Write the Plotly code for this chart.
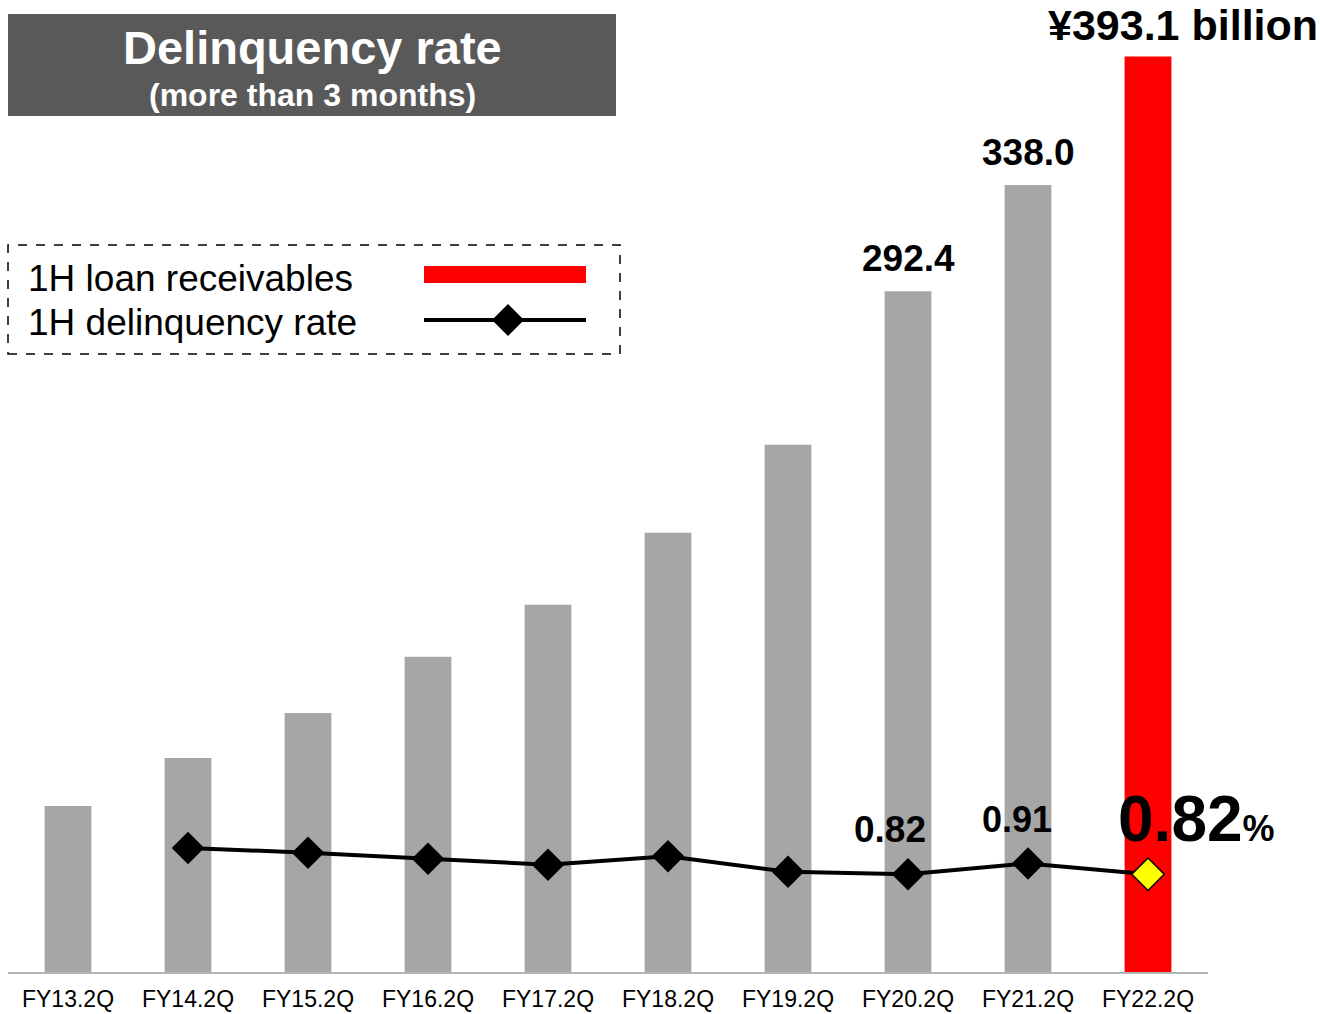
import plotly.graph_objects as go

# data
periods = ["FY13.2Q", "FY14.2Q", "FY15.2Q", "FY16.2Q", "FY17.2Q",
           "FY18.2Q", "FY19.2Q", "FY20.2Q", "FY21.2Q", "FY22.2Q"]
loans = [71.6, 92.2, 111.5, 135.6, 157.9, 188.8, 226.5, 292.4, 338.0, 393.1]
rate_periods = periods[1:]
rates = [1.04, 1.00, 0.95, 0.90, 0.97, 0.84, 0.82, 0.91, 0.82]

FONT = "Liberation Sans, Arial, sans-serif"
W, H = 1320, 1014
L, R, T, B = 8, 112, 17, 41


def px(x):
    return (x - L) / (W - L - R)


def py(y):
    return (H - B - y) / (H - T - B)


def text_at(x, y, text, size, color="black", anchor="center"):
    return dict(x=px(x), y=py(y), xref="paper", yref="paper", showarrow=False,
                xanchor=anchor, yanchor="middle", text=text,
                font=dict(size=size, color=color, family=FONT))


bar_colors = ["#a6a6a6"] * (len(periods) - 1) + ["#ff0000"]

fig = go.Figure()
fig.add_trace(go.Bar(
    x=periods, y=loans, marker=dict(color=bar_colors, line=dict(width=0)),
    width=0.39, showlegend=False, hoverinfo="skip",
))
fig.add_trace(go.Scatter(
    x=rate_periods, y=rates, yaxis="y2", mode="lines+markers",
    line=dict(color="black", width=4),
    marker=dict(symbol="diamond", size=25,
                color=["black"] * (len(rates) - 1) + ["#ffff00"],
                line=dict(color="black", width=[0] * (len(rates) - 1) + [1.5])),
    showlegend=False, hoverinfo="skip",
))

ann = []
# bar value labels
for i in (7, 8):
    ann.append(dict(x=periods[i], y=loans[i], xref="x", yref="y", xanchor="center",
                    yanchor="bottom", text=f"<b>{loans[i]:.1f}</b>", showarrow=False,
                    yshift=10, font=dict(size=37, color="black", family=FONT)))
ann.append(dict(x=periods[9], y=loans[9], xref="x", yref="y", xanchor="center",
                yanchor="bottom", text=f"<b>¥{loans[9]:.1f} billion</b>", showarrow=False,
                xshift=35, yshift=5, font=dict(size=43, color="black", family=FONT)))
# rate labels
ann.append(dict(x=rate_periods[6], y=rates[6], xref="x", yref="y2", xanchor="center",
                yanchor="bottom", text=f"<b>{rates[6]:.2f}</b>", showarrow=False,
                xshift=-18, yshift=22, font=dict(size=37, color="black", family=FONT)))
ann.append(dict(x=rate_periods[7], y=rates[7], xref="x", yref="y2", xanchor="center",
                yanchor="bottom", text=f"<b>{rates[7]:.2f}</b>", showarrow=False,
                xshift=-11, yshift=21, font=dict(size=36, color="black", family=FONT)))
ann.append(dict(x=rate_periods[8], y=rates[8], xref="x", yref="y2", xanchor="center",
                yanchor="bottom",
                text=f"<b>{rates[8]:.2f}</b><b><span style='font-size:36px'>%</span></b>",
                showarrow=False, xshift=48, yshift=17,
                font=dict(size=64, color="black", family=FONT)))

# title box
ann.append(text_at(312, 48, "<b>Delinquency rate</b>", 47, "white"))
ann.append(text_at(312, 95, "<b>(more than 3 months)</b>", 32, "white"))

# legend texts
ann.append(text_at(26, 278, "1H loan receivables", 37, anchor="left"))
ann.append(text_at(26, 322, "1H delinquency rate", 37, anchor="left"))

shapes = [
    dict(type="rect", xref="paper", yref="paper", x0=px(8), x1=px(616), y0=py(116), y1=py(14),
         fillcolor="#595959", line=dict(width=0), layer="below"),
    dict(type="rect", xref="paper", yref="paper", x0=px(8), x1=px(620), y0=py(354), y1=py(245),
         fillcolor="rgba(0,0,0,0)", line=dict(color="black", width=1.5, dash="dash")),
    dict(type="rect", xref="paper", yref="paper", x0=px(424), x1=px(586), y0=py(283), y1=py(266),
         fillcolor="#ff0000", line=dict(width=0)),
    dict(type="line", xref="paper", yref="paper", x0=px(424), x1=px(586), y0=py(320), y1=py(320),
         line=dict(color="black", width=4)),
    dict(type="path", xref="paper", yref="paper",
         path=f"M {px(492)} {py(320)} L {px(508)} {py(304)} L {px(524)} {py(320)} "
              f"L {px(508)} {py(336)} Z",
         fillcolor="black", line=dict(width=0)),
    dict(type="line", xref="paper", yref="paper", x0=0, x1=1, y0=0, y1=0,
         line=dict(color="#b3b3b3", width=2)),
]

fig.update_layout(
    width=W, height=H,
    margin=dict(l=L, r=R, t=T, b=B),
    plot_bgcolor="white", paper_bgcolor="white",
    xaxis=dict(showgrid=False, showline=False, ticks="", range=[-0.5, 9.5],
               ticklabelstandoff=10, automargin=False,
               tickfont=dict(size=23, color="black", family=FONT)),
    yaxis=dict(range=[0, 410], visible=False, showgrid=False, automargin=False),
    yaxis2=dict(range=[-0.01, 8.02], overlaying="y", visible=False, showgrid=False,
                automargin=False),
    annotations=ann, shapes=shapes,
)

fig.write_html("out.html", config={"displayModeBar": False},
               post_script="document.body.style.margin='0';")
